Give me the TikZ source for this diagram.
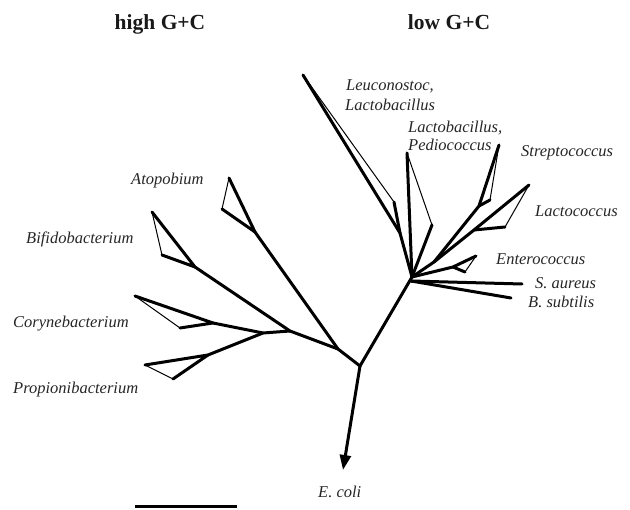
\documentclass[tikz,border=0pt]{standalone}
\usepackage{fontspec}
\setmainfont{Liberation Serif}
\usetikzlibrary{arrows.meta}
\begin{document}
\begin{tikzpicture}[x=1pt,y=-1pt,
  br/.style={line width=3pt,line cap=round,line join=round},
  fineline/.style={line width=1pt,line cap=round},
  lab/.style={font=\fontsize{16.5}{19}\selectfont\itshape,inner sep=0pt,anchor=base west,text=black!85},
  head/.style={font=\fontsize{21.5}{24}\selectfont\bfseries,inner sep=0pt,anchor=base,text=black!90}]
\useasboundingbox (0,0) rectangle (630,510);
% tree points
\coordinate (R) at (360,366);
\coordinate (H1) at (338,349);
\coordinate (H2) at (290,331);
\coordinate (H3) at (263,333);
\coordinate (A) at (255,232);
\coordinate (At) at (229,178);
\coordinate (Ai) at (222,209);
\coordinate (B) at (195,267);
\coordinate (Bt) at (152,212);
\coordinate (Bi) at (162,255);
\coordinate (Cj) at (213,323);
\coordinate (Ct) at (135,296);
\coordinate (Ci) at (180,328);
\coordinate (Pj) at (208,355);
\coordinate (Pt) at (145,365);
\coordinate (Pi) at (173,379);
\coordinate (L) at (412,277);
\coordinate (Lj) at (400,233);
\coordinate (Lt) at (303,75);
\coordinate (Li) at (394,202);
\coordinate (Dt) at (407,153);
\coordinate (Di) at (432,225);
\coordinate (K) at (434,262);
\coordinate (Sj) at (479,206);
\coordinate (St) at (499,145);
\coordinate (Si) at (490,200);
\coordinate (Kj) at (474,230);
\coordinate (Kt) at (529,185);
\coordinate (Ki) at (505,227);
\coordinate (Ej) at (453,267);
\coordinate (Et) at (476,256);
\coordinate (Ei) at (465,272);
\coordinate (L2) at (411,281);
\coordinate (Sa) at (522,284);
\coordinate (Bs) at (511,298);
\coordinate (Ec) at (343,470);
\coordinate (sb1) at (135,507);
\coordinate (sb2) at (237,507);
% high G+C
\draw[br] (R) -- (H1) -- (A);
\draw[br] (H1) -- (H2) -- (B);
\draw[br] (H2) -- (H3) -- (Cj);
\draw[br] (H3) -- (Pj);
\draw[br] (At) -- (A) -- (Ai); \draw[fineline] (At) -- (Ai);
\draw[br] (Bt) -- (B) -- (Bi); \draw[fineline] (Bt) -- (Bi);
\draw[br] (Ct) -- (Cj) -- (Ci); \draw[fineline] (Ct) -- (Ci);
\draw[br] (Pt) -- (Pj) -- (Pi); \draw[fineline] (Pt) -- (Pi);
% low G+C
\draw[br] (R) -- (L);
\draw[br] (L) -- (Lj) -- (Lt); \draw[br] (Lj) -- (Li); \draw[fineline] (Lt) -- (Li);
\draw[br] (L) -- (Dt); \draw[br] (L) -- (Di); \draw[fineline] (Dt) -- (Di);
\draw[br] (L) -- (K) -- (Sj) -- (St); \draw[br] (Sj) -- (Si); \draw[fineline] (St) -- (Si);
\draw[br] (K) -- (Kj) -- (Kt); \draw[br] (Kj) -- (Ki); \draw[fineline] (Kt) -- (Ki);
\draw[br] (L) -- (Ej) -- (Et); \draw[br] (Ej) -- (Ei); \draw[fineline] (Et) -- (Ei);
\draw[br] (L2) -- (Sa);
\draw[br] (L2) -- (Bs);
% outgroup
\draw[line width=3pt,-{Triangle[length=15pt,width=11pt]}] (R) -- (Ec);
% scale bar
\draw[line width=3pt] (sb1) -- (sb2);
% labels
\node[head] (hi) at (160,29.5) {high G+C};
\node[head] (lo) at (449,29.5) {low G+C};
\node[lab] (n1) at (346,91) {Leuconostoc,};
\node[lab] (n2) at (345,110.5) {Lactobacillus};
\node[lab] (n3) at (408,133) {Lactobacillus,};
\node[lab] (n4) at (408,151) {Pediococcus};
\node[lab] (n5) at (521,157) {Streptococcus};
\node[lab] (n6) at (535,216.5) {Lactococcus};
\node[lab] (n7) at (496,265) {Enterococcus};
\node[lab] (n8) at (535,288.5) {S. aureus};
\node[lab] (n9) at (528,308) {B. subtilis};
\node[lab] (n10) at (131,184.5) {Atopobium};
\node[lab] (n11) at (26,243.5) {Bifidobacterium};
\node[lab] (n12) at (13,327.5) {Corynebacterium};
\node[lab] (n13) at (13,394) {Propionibacterium};
\node[lab] (n14) at (318,498) {E. coli};
\end{tikzpicture}
\end{document}
